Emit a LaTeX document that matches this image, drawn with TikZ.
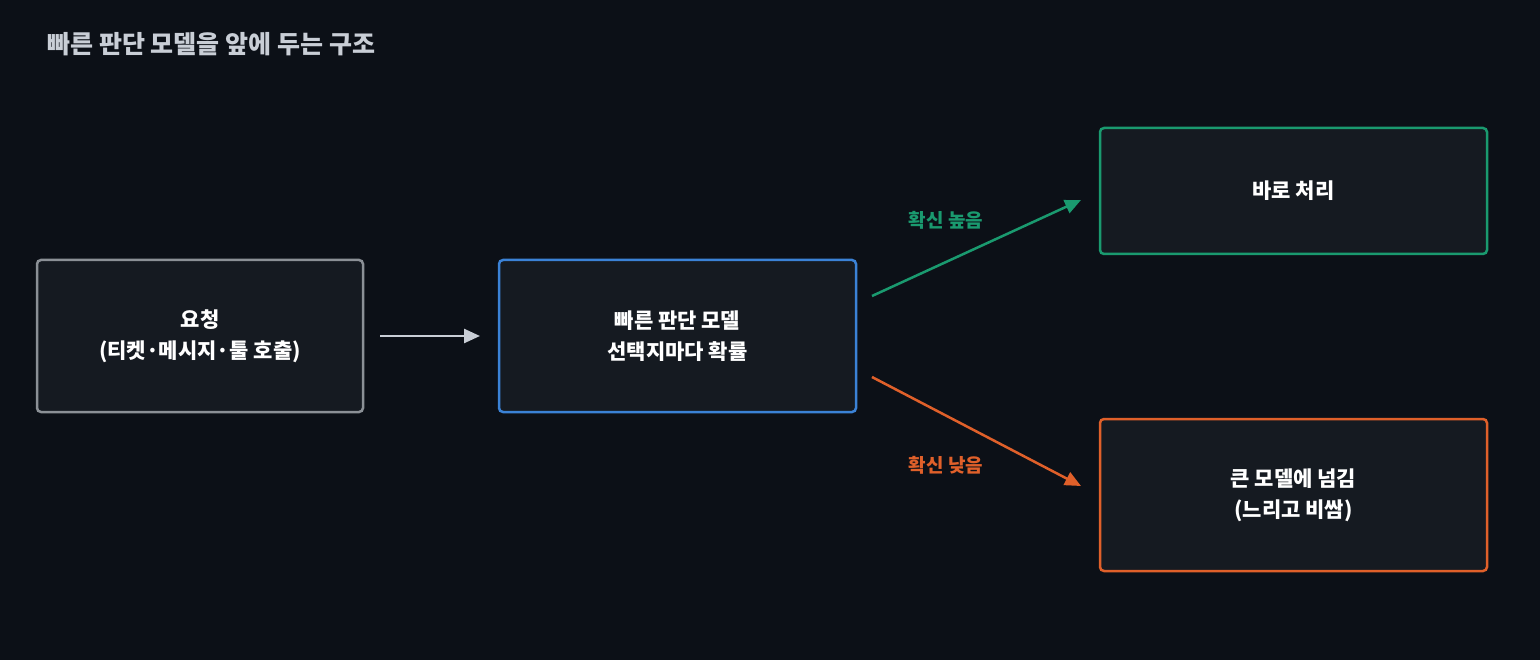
\documentclass[tikz,border=0pt]{standalone}
\usepackage{fontspec}
\setmainfont{Noto Sans CJK KR}
\usetikzlibrary{arrows.meta}
\definecolor{bg}{HTML}{0C1017}
\definecolor{boxf}{HTML}{151A21}
\definecolor{cgray}{HTML}{8B9096}
\definecolor{cblue}{HTML}{3B82D6}
\definecolor{cgreen}{HTML}{1A9A6F}
\definecolor{corange}{HTML}{E0602A}
\definecolor{ctitle}{HTML}{C9CED6}
\definecolor{carrow}{HTML}{C9CED6}
\begin{document}
\begin{tikzpicture}[x=1pt,y=-1pt,
  box/.style={draw,line width=2.5pt,rounded corners=4pt,fill=boxf,align=center,text=white,font=\fontsize{21}{31}\selectfont\bfseries,inner sep=0pt},
  arr/.style={line width=2.5pt,-{Triangle[length=16pt,width=14pt]}},
  lab/.style={font=\fontsize{19}{22}\selectfont\bfseries}]
\fill[bg] (0,0) rectangle (1540,660);
\useasboundingbox (0,0) rectangle (1540,660);
\node[anchor=west,text=ctitle,font=\fontsize{25}{30}\selectfont\bfseries] (title) at (44,44) {빠른 판단 모델을 앞에 두는 구조};
\node[box,draw=cgray,minimum width=326pt,minimum height=152pt] (req) at (200,336) {요청\\(티켓·메시지·툴 호출)};
\node[box,draw=cblue,minimum width=357pt,minimum height=152pt] (fast) at (677.5,336) {빠른 판단 모델\\선택지마다 확률};
\node[box,draw=cgreen,minimum width=387pt,minimum height=126pt] (ok) at (1293.5,191) {바로 처리};
\node[box,draw=corange,minimum width=387pt,minimum height=152pt] (big) at (1293.5,495) {큰 모델에 넘김\\(느리고 비쌈)};
\coordinate (a1s) at (380,336); \coordinate (a1e) at (480,336);
\coordinate (a2s) at (872,296); \coordinate (a2e) at (1081,200);
\coordinate (a3s) at (872,377); \coordinate (a3e) at (1081,486);
\draw[arr,carrow] (a1s) -- (a1e);
\draw[arr,cgreen] (a2s) -- (a2e);
\draw[arr,corange] (a3s) -- (a3e);
\node[lab,text=cgreen] (lhi) at (946,220) {확신 높음};
\node[lab,text=corange] (llo) at (946,465) {확신 낮음};
\end{tikzpicture}
\end{document}
